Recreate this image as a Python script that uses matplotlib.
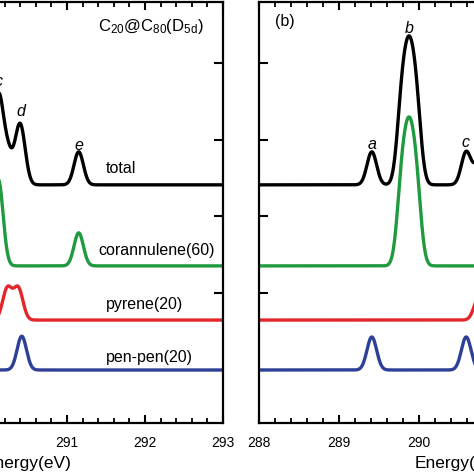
import numpy as np
import matplotlib
matplotlib.use("Agg")
import matplotlib.pyplot as plt
from matplotlib.ticker import MultipleLocator

plt.rcParams['font.family'] = ['Liberation Sans', 'DejaVu Sans']
plt.rcParams['mathtext.fontset'] = 'custom'
plt.rcParams['mathtext.rm'] = 'Liberation Sans'
plt.rcParams['mathtext.it'] = 'Liberation Sans:italic'

# ---------------- data (peak energies in eV, intensities in arb. units) ----------------
energy_lim = (288.0, 293.0)
broadening_sigma = 0.06  # eV

# panel (a): C20@C80(D5d)
a_coran_E = [290.12, 291.15]
a_coran_I = [1.12, 0.43]
a_pyrene_E = [290.235, 290.375]
a_pyrene_I = [0.41, 0.41]
a_penpen_E = [290.42]
a_penpen_I = [0.44]

# panel (b)
b_coran_E = [289.785, 289.875, 289.965]
b_coran_I = [1.00, 1.29, 1.00]
b_pyrene_E = [290.75]
b_pyrene_I = [0.30]
b_penpen_E = [289.41, 290.59]
b_penpen_I = [0.43, 0.43]

# vertical offsets of the stacked curves
offset_total = 2.41
offset_coran = 1.355
offset_pyrene = 0.65
offset_penpen = 0.0

series_names = ['total', 'corannulene(60)', 'pyrene(20)', 'pen-pen(20)']
series_colors = ['#000000', '#1f9a3f', '#e3262b', '#2e3f97']

a_peak_labels = ['c', 'd', 'e']
a_peak_label_E = [290.12, 290.41, 291.15]
a_peak_label_y = [3.75, 3.36, 2.92]
b_peak_labels = ['a', 'b', 'c']
b_peak_label_E = [289.41, 289.875, 290.58]
b_peak_label_y = [2.93, 4.44, 2.96]


def spectrum(E, centers, heights):
    y = np.zeros_like(E)
    for c, h in zip(centers, heights):
        y += h * np.exp(-(E - c) ** 2 / (2 * broadening_sigma ** 2))
    return y


E = np.linspace(energy_lim[0], energy_lim[1], 3001)

fig = plt.figure(figsize=(4.74, 4.74), dpi=100)
W = H = 474.0
bottom = (H - 423) / H
height = (423 - 2) / H
axA = fig.add_axes([-167 / W, bottom, 390 / W, height])
axB = fig.add_axes([259 / W, bottom, 400 / W, height])

panels = [
    (axA, (a_coran_E, a_coran_I), (a_pyrene_E, a_pyrene_I), (a_penpen_E, a_penpen_I)),
    (axB, (b_coran_E, b_coran_I), (b_pyrene_E, b_pyrene_I), (b_penpen_E, b_penpen_I)),
]

for ax, coran, pyr, pen in panels:
    yc = spectrum(E, *coran)
    yp = spectrum(E, *pyr)
    yn = spectrum(E, *pen)
    yt = yc + yp + yn
    lw = 2.4
    ax.plot(E, yt + offset_total, color=series_colors[0], lw=lw)
    ax.plot(E, yc + offset_coran, color=series_colors[1], lw=lw)
    ax.plot(E, yp + offset_pyrene, color=series_colors[2], lw=lw)
    ax.plot(E, yn + offset_penpen, color=series_colors[3], lw=lw)
    ax.set_xlim(*energy_lim)
    ax.set_ylim(-0.69, 4.79)
    ax.xaxis.set_major_locator(MultipleLocator(1))
    ax.xaxis.set_minor_locator(MultipleLocator(0.2))
    ax.yaxis.set_major_locator(MultipleLocator(1))
    ax.tick_params(axis='x', which='major', direction='in', length=6, width=1.5,
                   top=True, bottom=True, labelsize=10, pad=9.5)
    ax.tick_params(axis='x', which='minor', direction='in', length=3.5, width=1.3,
                   top=True, bottom=True)
    ax.tick_params(axis='y', which='major', direction='in', length=6.5, width=1.5,
                   left=True, right=True, labelleft=False)
    for s in ax.spines.values():
        s.set_linewidth(1.6)
    ax.set_xlabel('Energy(eV)', fontsize=12.5, labelpad=4)

# panel (a) annotations
axA.text(291.40, 4.47, r'C$_{\mathrm{20}}$@C$_{\mathrm{80}}$(D$_{\mathrm{5d}}$)', fontsize=12,
         ha='left', va='center')
label_x = [291.50, 291.40, 291.50, 291.50]
label_y = [2.62, 1.56, 0.85, 0.16]
for name, lx, ly in zip(series_names, label_x, label_y):
    axA.text(lx, ly, name, fontsize=11.5, ha='left', va='center')
for t, x, y in zip(a_peak_labels, a_peak_label_E, a_peak_label_y):
    axA.text(x, y, t, fontsize=11.5, style='italic', ha='center', va='center')

# panel (b) annotations
axB.text(288.2, 4.53, '(b)', fontsize=11.5, ha='left', va='center')
for t, x, y in zip(b_peak_labels, b_peak_label_E, b_peak_label_y):
    axB.text(x, y, t, fontsize=11.5, style='italic', ha='center', va='center')

fig.savefig('out.png', dpi=100)
